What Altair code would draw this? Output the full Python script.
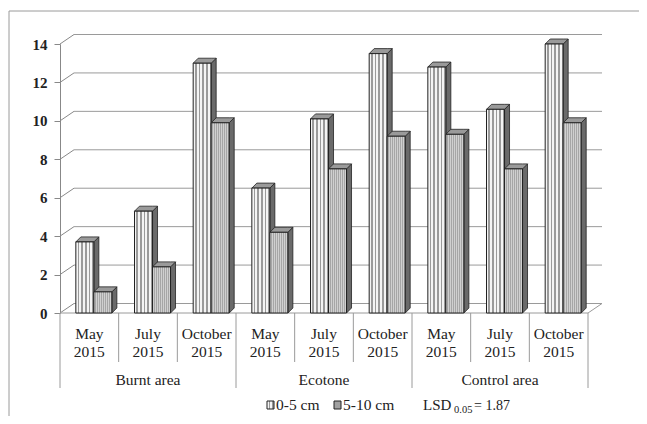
import altair as alt
import pandas as pd

# ---------------- data ----------------
sites = ["Burnt area", "Ecotone", "Control area"]
months = ["May", "July", "October"]
year = "2015"
depths = ["0-5 cm", "5-10 cm"]
vals_0_5 = [3.7, 5.3, 13.0, 6.5, 10.1, 13.5, 12.8, 10.6, 14.0]
vals_5_10 = [1.1, 2.4, 9.9, 4.2, 7.5, 9.2, 9.3, 7.5, 9.9]
y_ticks = [0, 2, 4, 6, 8, 10, 12, 14]
lsd_label = "LSD"
lsd_sub = "0.05"
lsd_value = "= 1.87"

# ---------------- geometry (style) ----------------
W, H = 528, 269
NCAT = len(sites) * len(months)
PX_X = W / NCAT
PX_Y = H / 14.0
GDX = 14 / PX_X
GDY = 9.5 / PX_Y
BOFF = 0.27
BW = 0.307
BDX = 5.0 / PX_X
BDY = 5.0 / PX_Y
FONT = "Liberation Serif, Times New Roman, serif"

xs = alt.Scale(domain=[0, NCAT], nice=False, zero=False)
ys = alt.Scale(domain=[0, 14], nice=False, zero=False)
YAX = alt.Axis(values=y_ticks, grid=False, domain=True, domainColor="#888888",
               ticks=True, tickSize=6, tickColor="#888888",
               labelFont=FONT, labelFontSize=15, labelFontWeight="bold",
               labelColor="#222222", labelPadding=7, title=None)


def Y(field):
    return alt.Y(field, scale=ys, axis=YAX, stack=None)


def X(field):
    return alt.X(field, scale=xs, axis=None)


# ---------------- tables ----------------
cats = []
for g, s in enumerate(sites):
    for m_i, m in enumerate(months):
        cats.append({"i": g * 3 + m_i, "site": s, "month": m, "year": year})

fronts, sides, tops = [], [], []
for c in cats:
    i = c["i"]
    for s_i, (d, arr) in enumerate(zip(depths, [vals_0_5, vals_5_10])):
        v = arr[i]
        xl = i + BOFF + s_i * BW
        xr = xl + BW
        bid = f"{i}-{s_i}"
        fronts.append({"bid": bid, "depth": d, "xl": xl, "xr": xr, "v": v, "zero": 0})
        sides.append({"bid": bid, "depth": d, "px": xr, "hi": v, "lo": 0})
        sides.append({"bid": bid, "depth": d, "px": xr + BDX, "hi": v + BDY, "lo": BDY})
        tops.append({"bid": bid, "depth": d, "px": xl, "hi": v, "lo": v})
        tops.append({"bid": bid, "depth": d, "px": xl + BDX, "hi": v + BDY, "lo": v})
        tops.append({"bid": bid, "depth": d, "px": xr, "hi": v + BDY, "lo": v})
        tops.append({"bid": bid, "depth": d, "px": xr + BDX, "hi": v + BDY, "lo": v + BDY})

df_front = pd.DataFrame(fronts)
df_side = pd.DataFrame(sides)
df_top = pd.DataFrame(tops)
df_grid = pd.DataFrame({"v": y_ticks})
df_grid["vb"] = df_grid["v"] + GDY
df_grid["x0"] = 0.0
df_grid["xb"] = GDX
df_grid["xe"] = NCAT + GDX
df_grid["xr0"] = float(NCAT)

df_cat = pd.DataFrame(cats)
df_cat["xc"] = df_cat["i"] + 0.5
df_site = pd.DataFrame({"site": sites, "xc": [1.5 + 3 * g for g in range(len(sites))]})
df_sep = pd.DataFrame({"x": list(range(NCAT + 1))})
df_sep["major"] = df_sep["x"] % 3 == 0


# ---------------- fills ----------------
def stripes(n, light, dark, frac=0.55):
    stops = []
    for k in range(n):
        a = k / n
        b = (k + frac) / n
        e = (k + 1) / n
        stops += [alt.GradientStop(offset=a, color=light), alt.GradientStop(offset=b, color=light),
                  alt.GradientStop(offset=b, color=dark), alt.GradientStop(offset=e, color=dark)]
    return alt.LinearGradient(gradient="linear", stops=stops, x1=0, x2=1, y1=0, y2=0)


fill_a = stripes(5, "#f4f4f4", "#9a9a9a")
fill_b = stripes(9, "#d0d0d0", "#a6a6a6", 0.5)
GRID = "#9a9a9a"
INK = "#222222"

# ---------------- layers ----------------
diag = alt.Chart(df_grid).mark_rule(color="#888888", strokeWidth=1).encode(
    x=X("x0:Q"), x2="xb:Q", y=Y("v:Q"), y2="vb:Q")

grid_h = alt.Chart(df_grid).mark_rule(color=GRID, strokeWidth=1).encode(
    x=X("xb:Q"), x2="xe:Q", y=Y("vb:Q"))

floor_front = alt.Chart(df_grid[df_grid["v"] == 0]).mark_rule(color=GRID, strokeWidth=1).encode(
    x=X("x0:Q"), x2="xr0:Q", y=Y("v:Q"))
floor_right = alt.Chart(df_grid[df_grid["v"] == 0]).mark_rule(color=GRID, strokeWidth=1).encode(
    x=X("xr0:Q"), x2="xe:Q", y=Y("v:Q"), y2="vb:Q")

side = alt.Chart(df_side).mark_area(fill="#6a6a6a", stroke=INK, strokeWidth=0.8, orient="vertical").encode(
    x=X("px:Q"), y=Y("hi:Q"), y2="lo:Q", detail="bid:N")
top = alt.Chart(df_top).mark_area(fill="#9a9a9a", stroke=INK, strokeWidth=0.8, orient="vertical").encode(
    x=X("px:Q"), y=Y("hi:Q"), y2="lo:Q", detail="bid:N")
front_a = alt.Chart(df_front[df_front["depth"] == depths[0]]).mark_rect(
    fill=fill_a, stroke=INK, strokeWidth=1).encode(
    x=X("xl:Q"), x2="xr:Q", y=Y("v:Q"), y2="zero:Q")
front_b = alt.Chart(df_front[df_front["depth"] == depths[1]]).mark_rect(
    fill=fill_b, stroke=INK, strokeWidth=1).encode(
    x=X("xl:Q"), x2="xr:Q", y=Y("v:Q"), y2="zero:Q")

# category axis
sep_minor = alt.Chart(df_sep).mark_rule(color=GRID, strokeWidth=1).encode(
    x=X("x:Q"), y=alt.value(H), y2=alt.value(318))
sep_major = alt.Chart(df_sep[df_sep["major"]]).mark_rule(color=GRID, strokeWidth=1).encode(
    x=X("x:Q"), y=alt.value(318), y2=alt.value(344))
TXT = dict(font=FONT, fontSize=15.5, color=INK, baseline="alphabetic")
txt_month = alt.Chart(df_cat).mark_text(**TXT).encode(x=X("xc:Q"), y=alt.value(295), text="month:N")
txt_year = alt.Chart(df_cat).mark_text(**TXT).encode(x=X("xc:Q"), y=alt.value(313), text="year:N")
txt_site = alt.Chart(df_site).mark_text(**TXT).encode(x=X("xc:Q"), y=alt.value(341), text="site:N")

# legend
df_leg = pd.DataFrame({"depth": depths})
leg_a = alt.Chart(df_leg[df_leg["depth"] == depths[0]]).mark_rect(fill=fill_a, stroke=INK, strokeWidth=1).encode(
    x=alt.value(207), x2=alt.value(214), y=alt.value(357), y2=alt.value(365))
leg_b = alt.Chart(df_leg[df_leg["depth"] == depths[1]]).mark_rect(fill="#a0a0a0", stroke=INK, strokeWidth=1).encode(
    x=alt.value(274), x2=alt.value(281), y=alt.value(357), y2=alt.value(365))
LTX = dict(font=FONT, fontSize=15.5, color=INK, align="left", baseline="alphabetic")
leg_ta = alt.Chart(df_leg[df_leg["depth"] == depths[0]]).mark_text(**LTX).encode(
    x=alt.value(216), y=alt.value(366), text="depth:N")
leg_tb = alt.Chart(df_leg[df_leg["depth"] == depths[1]]).mark_text(**LTX).encode(
    x=alt.value(283), y=alt.value(366), text="depth:N")
df_lsd = pd.DataFrame({"t": [lsd_label, lsd_sub, lsd_value]})
lsd1 = alt.Chart(df_lsd[df_lsd["t"] == lsd_label]).mark_text(**{**LTX, "fontSize": 15}).encode(
    x=alt.value(363), y=alt.value(366), text="t:N")
lsd2 = alt.Chart(df_lsd[df_lsd["t"] == lsd_sub]).mark_text(**{**LTX, "fontSize": 10.5}).encode(
    x=alt.value(394), y=alt.value(369), text="t:N")
lsd3 = alt.Chart(df_lsd[df_lsd["t"] == lsd_value]).mark_text(**{**LTX, "fontSize": 14}).encode(
    x=alt.value(414), y=alt.value(366), text="t:N")

# outer frame (left and top edges)
frame_l = alt.Chart(df_leg.head(1)).mark_rule(color=GRID, strokeWidth=1).encode(
    x=alt.value(-51), y=alt.value(-33), y2=alt.value(400))
frame_t = alt.Chart(df_leg.head(1)).mark_rule(color=GRID, strokeWidth=1).encode(
    x=alt.value(-51), x2=alt.value(620), y=alt.value(-33))

chart = alt.layer(
    frame_l, frame_t,
    diag, grid_h, floor_front, floor_right,
    side, top, front_a, front_b,
    sep_minor, sep_major, txt_month, txt_year, txt_site,
    leg_a, leg_b, leg_ta, leg_tb, lsd1, lsd2, lsd3,
).properties(
    width=W, height=H,
    autosize=alt.AutoSizeParams(type="none"),
    padding={"left": 52, "top": 36, "right": 51, "bottom": 103},
    background="white",
).configure_view(stroke=None)

chart.save("out.html", embed_options={"renderer": "svg", "actions": False})
